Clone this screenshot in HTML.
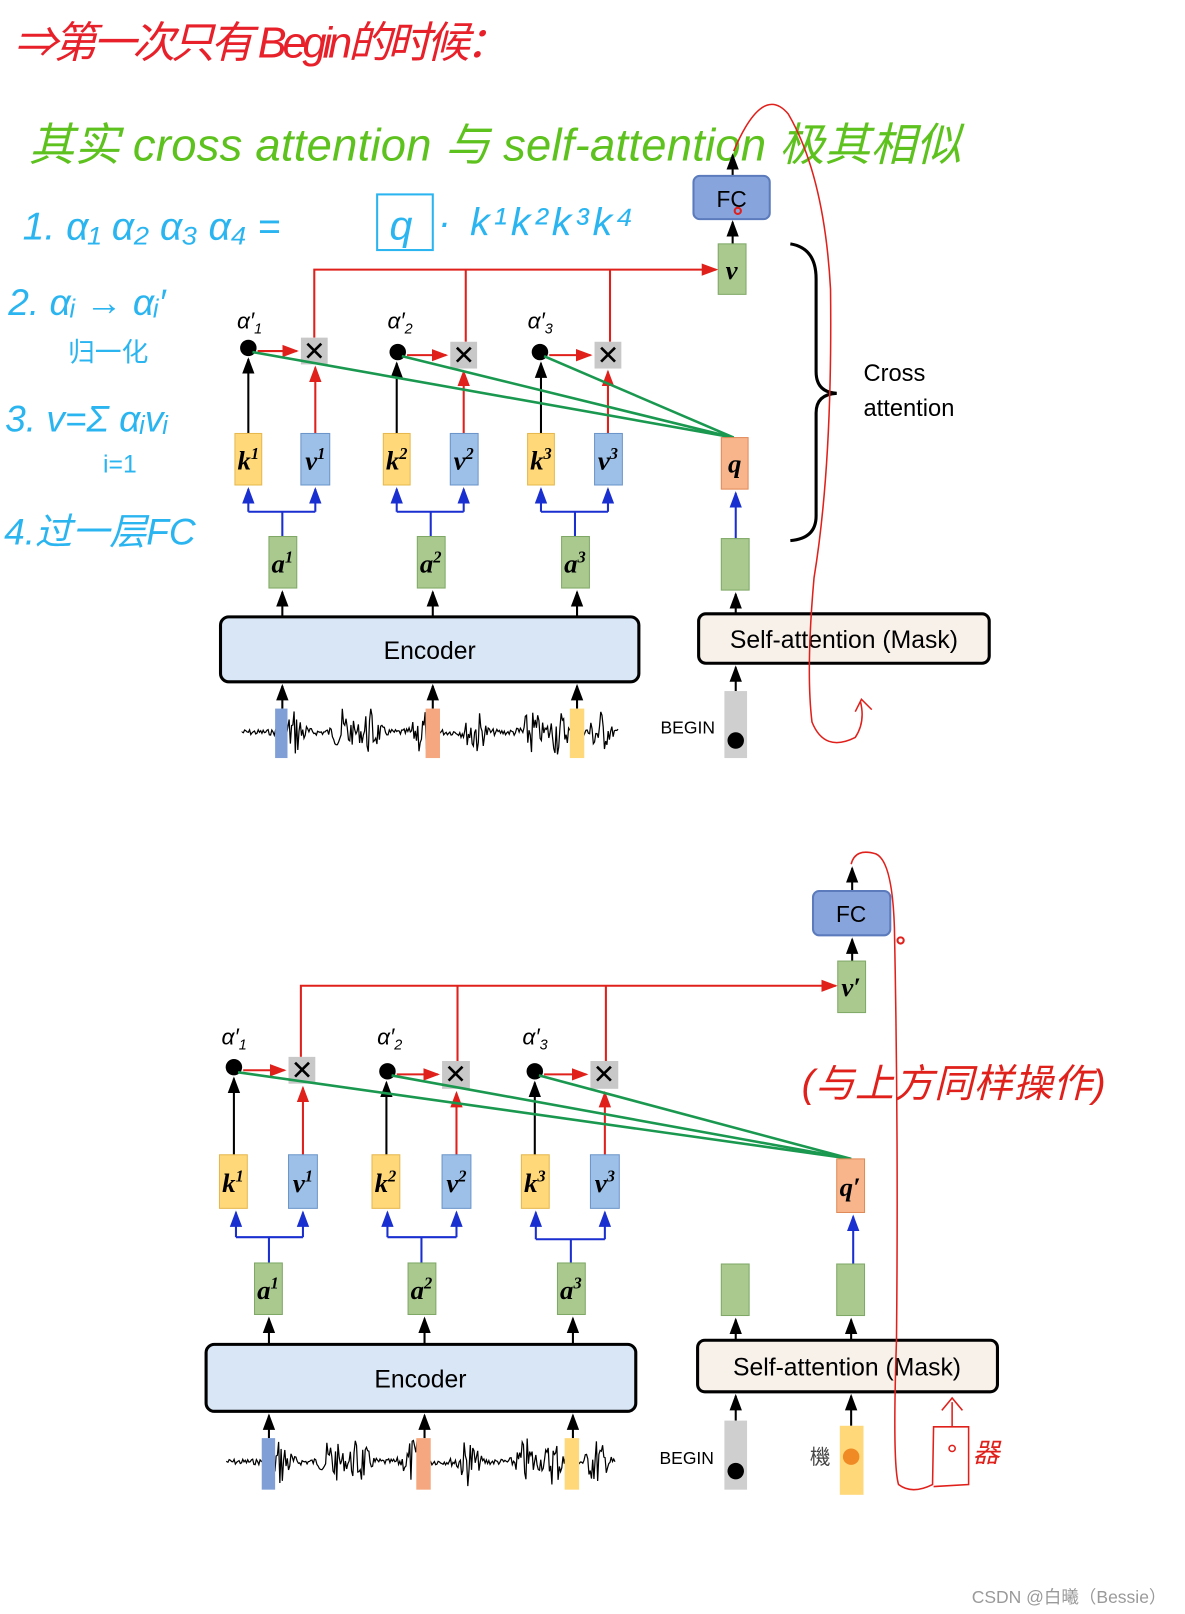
<!DOCTYPE html>
<html><head><meta charset="utf-8"><style>
html,body{margin:0;padding:0;background:#fff}
svg{display:block}
text{font-family:"Liberation Sans","Noto Sans CJK SC",sans-serif}
.m{font-family:"Liberation Serif",serif;font-style:italic;font-weight:bold;font-size:26px}
</style></head><body>
<svg id="s" width="1185" height="1614" viewBox="0 0 1150 1565" xmlns="http://www.w3.org/2000/svg">
<defs>
<marker id="ak" markerWidth="8" markerHeight="8" refX="7" refY="4" orient="auto"><path d="M0,1 L8,4 L0,7z" fill="#000"/></marker>
<marker id="ar" markerWidth="8" markerHeight="8" refX="7" refY="4" orient="auto"><path d="M0,1 L8,4 L0,7z" fill="#e0201b"/></marker>
<marker id="ab" markerWidth="8" markerHeight="8" refX="7" refY="4" orient="auto"><path d="M0,1 L8,4 L0,7z" fill="#1a2fd0"/></marker>
</defs>
<!-- handwriting -->
<text x="14" y="55" font-size="42" fill="#e8202a" font-style="italic" textLength="480">⇒第一次只有 Begin的时候：</text>
<text x="28" y="155" font-size="44" fill="#5dc21e" font-style="italic" textLength="905">其实 cross attention 与 self-attention 极其相似</text>
<text x="22" y="232" font-size="38" fill="#2bb5f0" font-style="italic">1.   α₁ α₂ α₃ α₄ =</text>
<text x="378" y="232" font-size="40" fill="#2bb5f0" font-style="italic">q</text>
<text x="425" y="228" font-size="38" fill="#2bb5f0" font-style="italic" letter-spacing="4">· k¹k²k³k⁴</text>
<rect x="366" y="188" width="54" height="54" fill="none" stroke="#2bb5f0" stroke-width="2"/>
<text x="8" y="305" font-size="36" fill="#2bb5f0" font-style="italic">2. αᵢ → αᵢ′</text>
<text x="66" y="350" font-size="26" fill="#2bb5f0">归一化</text>
<text x="5" y="418" font-size="36" fill="#2bb5f0" font-style="italic">3. v=Σ αᵢvᵢ</text>
<text x="100" y="458" font-size="24" fill="#2bb5f0">i=1</text>
<text x="4" y="528" font-size="36" fill="#2bb5f0" font-style="italic">4.过一层FC</text>

<g id="top">
<line x1="711" y1="170" x2="711" y2="150" stroke="#000" stroke-width="2" marker-end="url(#ak)"/>
<rect x="673" y="170" width="74" height="42" rx="6" fill="#87a4dc" stroke="#5b7bbd" stroke-width="2"/>
<text x="710" y="200" font-size="22" text-anchor="middle">FC</text>
<line x1="711" y1="236" x2="711" y2="215" stroke="#000" stroke-width="2" marker-end="url(#ak)"/>
<rect x="697" y="236" width="27" height="49" fill="#a9c98f" stroke="#7fa866"/>
<text x="710" y="270" class="m" text-anchor="middle">v</text>
<polyline points="305,327 305,261 695,261" fill="none" stroke="#e0201b" stroke-width="2" marker-end="url(#ar)"/>
<line x1="452" y1="261" x2="452" y2="331" stroke="#e0201b" stroke-width="2"/>
<line x1="592" y1="261" x2="592" y2="331" stroke="#e0201b" stroke-width="2"/>
<rect x="292" y="327" width="26" height="26" fill="#c8c8c8"/><text x="305" y="349" font-size="26" text-anchor="middle">✕</text>
<rect x="437" y="331" width="26" height="26" fill="#c8c8c8"/><text x="450" y="353" font-size="26" text-anchor="middle">✕</text>
<rect x="577" y="331" width="26" height="26" fill="#c8c8c8"/><text x="590" y="353" font-size="26" text-anchor="middle">✕</text>
<circle cx="241" cy="337" r="8"/><circle cx="386" cy="341" r="8"/><circle cx="524" cy="341" r="8"/>
<line x1="250" y1="340" x2="288" y2="340" stroke="#e0201b" stroke-width="2" marker-end="url(#ar)"/>
<line x1="395" y1="344" x2="433" y2="344" stroke="#e0201b" stroke-width="2" marker-end="url(#ar)"/>
<line x1="533" y1="344" x2="573" y2="344" stroke="#e0201b" stroke-width="2" marker-end="url(#ar)"/>
<text x="230" y="318" font-size="22" font-family="Liberation Serif" font-style="italic">α′<tspan font-size="14" dy="5">1</tspan></text>
<text x="376" y="318" font-size="22" font-family="Liberation Serif" font-style="italic">α′<tspan font-size="14" dy="5">2</tspan></text>
<text x="512" y="318" font-size="22" font-family="Liberation Serif" font-style="italic">α′<tspan font-size="14" dy="5">3</tspan></text>
<g stroke="#000" stroke-width="2">
<line x1="241" y1="420" x2="241" y2="348" marker-end="url(#ak)"/>
<line x1="385" y1="420" x2="385" y2="352" marker-end="url(#ak)"/>
<line x1="525" y1="420" x2="525" y2="352" marker-end="url(#ak)"/></g>
<g stroke="#e0201b" stroke-width="2">
<line x1="306" y1="420" x2="306" y2="356" marker-end="url(#ar)"/>
<line x1="450" y1="420" x2="450" y2="360" marker-end="url(#ar)"/>
<line x1="590" y1="420" x2="590" y2="360" marker-end="url(#ar)"/></g>
<g stroke="#1a9850" stroke-width="2.5">
<line x1="712" y1="424" x2="245" y2="341"/><line x1="712" y1="424" x2="390" y2="345"/><line x1="712" y1="424" x2="528" y2="345"/></g>
<rect x="228" y="420" width="26" height="50" fill="#ffd87a" stroke="#e6b84e"/><text x="241" y="455" class="m" text-anchor="middle">k<tspan font-size="16" dy="-10">1</tspan></text>
<rect x="292" y="420" width="28" height="50" fill="#9dc0e8" stroke="#6b95c9"/><text x="306" y="455" class="m" text-anchor="middle">v<tspan font-size="16" dy="-10">1</tspan></text>
<rect x="372" y="420" width="26" height="50" fill="#ffd87a" stroke="#e6b84e"/><text x="385" y="455" class="m" text-anchor="middle">k<tspan font-size="16" dy="-10">2</tspan></text>
<rect x="437" y="420" width="27" height="50" fill="#9dc0e8" stroke="#6b95c9"/><text x="450" y="455" class="m" text-anchor="middle">v<tspan font-size="16" dy="-10">2</tspan></text>
<rect x="512" y="420" width="26" height="50" fill="#ffd87a" stroke="#e6b84e"/><text x="525" y="455" class="m" text-anchor="middle">k<tspan font-size="16" dy="-10">3</tspan></text>
<rect x="577" y="420" width="27" height="50" fill="#9dc0e8" stroke="#6b95c9"/><text x="590" y="455" class="m" text-anchor="middle">v<tspan font-size="16" dy="-10">3</tspan></text>
<rect x="700" y="424" width="26" height="50" fill="#f8b58c" stroke="#e08a58"/><text x="713" y="458" class="m" text-anchor="middle">q</text>
<g fill="none" stroke="#1a2fd0" stroke-width="2">
<polyline points="241,496 241,474" marker-end="url(#ab)"/><polyline points="306,496 306,474" marker-end="url(#ab)"/><polyline points="241,496 306,496"/><line x1="274" y1="496" x2="274" y2="520"/>
<polyline points="385,496 385,474" marker-end="url(#ab)"/><polyline points="450,496 450,474" marker-end="url(#ab)"/><polyline points="385,496 450,496"/><line x1="418" y1="496" x2="418" y2="520"/>
<polyline points="525,496 525,474" marker-end="url(#ab)"/><polyline points="590,496 590,474" marker-end="url(#ab)"/><polyline points="525,496 590,496"/><line x1="558" y1="496" x2="558" y2="520"/>
<line x1="714" y1="522" x2="714" y2="478" marker-end="url(#ab)"/></g>
<rect x="261" y="520" width="27" height="50" fill="#a9c98f" stroke="#7fa866"/><text x="274" y="555" class="m" text-anchor="middle">a<tspan font-size="16" dy="-10">1</tspan></text>
<rect x="405" y="520" width="27" height="50" fill="#a9c98f" stroke="#7fa866"/><text x="418" y="555" class="m" text-anchor="middle">a<tspan font-size="16" dy="-10">2</tspan></text>
<rect x="545" y="520" width="27" height="50" fill="#a9c98f" stroke="#7fa866"/><text x="558" y="555" class="m" text-anchor="middle">a<tspan font-size="16" dy="-10">3</tspan></text>
<rect x="700" y="522" width="27" height="50" fill="#a9c98f" stroke="#7fa866"/>
<g stroke="#000" stroke-width="2">
<line x1="274" y1="598" x2="274" y2="574" marker-end="url(#ak)"/><line x1="420" y1="598" x2="420" y2="574" marker-end="url(#ak)"/><line x1="560" y1="598" x2="560" y2="574" marker-end="url(#ak)"/>
<line x1="714" y1="595" x2="714" y2="576" marker-end="url(#ak)"/>
<line x1="274" y1="687" x2="274" y2="665" marker-end="url(#ak)"/><line x1="420" y1="687" x2="420" y2="665" marker-end="url(#ak)"/><line x1="560" y1="687" x2="560" y2="665" marker-end="url(#ak)"/>
<line x1="714" y1="670" x2="714" y2="647" marker-end="url(#ak)"/></g>
<rect x="214" y="598" width="406" height="63" rx="8" fill="#d8e6f5" stroke="#000" stroke-width="3"/>
<text x="417" y="639" font-size="24" text-anchor="middle">Encoder</text>
<rect x="678" y="595" width="282" height="48" rx="7" fill="#f8f1ea" stroke="#000" stroke-width="3"/>
<text x="819" y="628" font-size="24" text-anchor="middle">Self-attention (Mask)</text>
<rect x="703" y="670" width="22" height="65" fill="#cfcfcf"/><circle cx="714" cy="718" r="8"/>
<text x="641" y="711" font-size="17">BEGIN</text>
<path class="wave" data-x0="235" data-x1="600" data-y="710" fill="none" stroke="#000" stroke-width="1.2"/>
<rect x="267" y="687" width="12" height="48" fill="#7f9fd6"/><rect x="413" y="687" width="14" height="48" fill="#f5a77f"/><rect x="553" y="687" width="14" height="48" fill="#ffd87a"/>
<path d="M767,236 Q792,240 792,270 L792,360 Q792,380 812,381 Q792,382 792,400 L792,500 Q792,522 767,524" fill="none" stroke="#000" stroke-width="3"/>
<text x="838" y="369" font-size="23">Cross</text><text x="838" y="403" font-size="23">attention</text>
</g>
<path d="M712,146 Q740,80 765,110 Q800,170 806,280 Q808,450 790,560 Q782,650 788,700 Q800,730 830,715 Q840,700 835,680 M830,690 L836,678 L846,688" fill="none" stroke="#e0201b" stroke-width="1.5"/>
<circle cx="716" cy="204" r="3" fill="none" stroke="#e0201b" stroke-width="2"/>

<g>
<line x1="827" y1="864" x2="827" y2="842" stroke="#000" stroke-width="2" marker-end="url(#ak)"/>
<rect x="789" y="864" width="75" height="43" rx="6" fill="#87a4dc" stroke="#5b7bbd" stroke-width="2"/>
<text x="826" y="894" font-size="22" text-anchor="middle">FC</text>
<line x1="827" y1="932" x2="827" y2="911" stroke="#000" stroke-width="2" marker-end="url(#ak)"/>
<rect x="813" y="932" width="27" height="50" fill="#a9c98f" stroke="#7fa866"/>
<text x="826" y="966" class="m" text-anchor="middle">v′</text>
<polyline points="292,1025 292,956 811,956" fill="none" stroke="#e0201b" stroke-width="2" marker-end="url(#ar)"/>
<line x1="444" y1="956" x2="444" y2="1029" stroke="#e0201b" stroke-width="2"/>
<line x1="588" y1="956" x2="588" y2="1029" stroke="#e0201b" stroke-width="2"/>
<rect x="280" y="1025" width="26" height="26" fill="#c8c8c8"/><text x="293" y="1047" font-size="26" text-anchor="middle">✕</text>
<rect x="429" y="1029" width="27" height="27" fill="#c8c8c8"/><text x="442" y="1051" font-size="26" text-anchor="middle">✕</text>
<rect x="573" y="1029" width="27" height="27" fill="#c8c8c8"/><text x="586" y="1051" font-size="26" text-anchor="middle">✕</text>
<circle cx="227" cy="1035" r="8"/><circle cx="376" cy="1039" r="8"/><circle cx="519" cy="1039" r="8"/>
<line x1="236" y1="1038" x2="276" y2="1038" stroke="#e0201b" stroke-width="2" marker-end="url(#ar)"/>
<line x1="385" y1="1042" x2="425" y2="1042" stroke="#e0201b" stroke-width="2" marker-end="url(#ar)"/>
<line x1="528" y1="1042" x2="569" y2="1042" stroke="#e0201b" stroke-width="2" marker-end="url(#ar)"/>
<text x="215" y="1013" font-size="22" font-family="Liberation Serif" font-style="italic">α′<tspan font-size="14" dy="5">1</tspan></text>
<text x="366" y="1013" font-size="22" font-family="Liberation Serif" font-style="italic">α′<tspan font-size="14" dy="5">2</tspan></text>
<text x="507" y="1013" font-size="22" font-family="Liberation Serif" font-style="italic">α′<tspan font-size="14" dy="5">3</tspan></text>
<g stroke="#000" stroke-width="2">
<line x1="227" y1="1120" x2="227" y2="1046" marker-end="url(#ak)"/>
<line x1="375" y1="1120" x2="375" y2="1050" marker-end="url(#ak)"/>
<line x1="519" y1="1120" x2="519" y2="1050" marker-end="url(#ak)"/></g>
<g stroke="#e0201b" stroke-width="2">
<line x1="294" y1="1120" x2="294" y2="1055" marker-end="url(#ar)"/>
<line x1="443" y1="1120" x2="443" y2="1060" marker-end="url(#ar)"/>
<line x1="587" y1="1120" x2="587" y2="1060" marker-end="url(#ar)"/></g>
<g stroke="#1a9850" stroke-width="2.5">
<line x1="826" y1="1124" x2="231" y2="1040"/><line x1="826" y1="1124" x2="380" y2="1043"/><line x1="826" y1="1124" x2="523" y2="1043"/></g>
<rect x="213" y="1120" width="27" height="52" fill="#ffd87a" stroke="#e6b84e"/><text x="226" y="1156" class="m" text-anchor="middle">k<tspan font-size="16" dy="-10">1</tspan></text>
<rect x="280" y="1120" width="28" height="52" fill="#9dc0e8" stroke="#6b95c9"/><text x="294" y="1156" class="m" text-anchor="middle">v<tspan font-size="16" dy="-10">1</tspan></text>
<rect x="361" y="1120" width="27" height="52" fill="#ffd87a" stroke="#e6b84e"/><text x="374" y="1156" class="m" text-anchor="middle">k<tspan font-size="16" dy="-10">2</tspan></text>
<rect x="429" y="1120" width="28" height="52" fill="#9dc0e8" stroke="#6b95c9"/><text x="443" y="1156" class="m" text-anchor="middle">v<tspan font-size="16" dy="-10">2</tspan></text>
<rect x="506" y="1120" width="27" height="52" fill="#ffd87a" stroke="#e6b84e"/><text x="519" y="1156" class="m" text-anchor="middle">k<tspan font-size="16" dy="-10">3</tspan></text>
<rect x="573" y="1120" width="28" height="52" fill="#9dc0e8" stroke="#6b95c9"/><text x="587" y="1156" class="m" text-anchor="middle">v<tspan font-size="16" dy="-10">3</tspan></text>
<rect x="812" y="1124" width="27" height="52" fill="#f8b58c" stroke="#e08a58"/><text x="825" y="1160" class="m" text-anchor="middle">q′</text>
<g fill="none" stroke="#1a2fd0" stroke-width="2">
<polyline points="229,1200 229,1176" marker-end="url(#ab)"/><polyline points="294,1200 294,1176" marker-end="url(#ab)"/><polyline points="229,1200 294,1200"/><line x1="261" y1="1200" x2="261" y2="1225"/>
<polyline points="376,1200 376,1176" marker-end="url(#ab)"/><polyline points="443,1200 443,1176" marker-end="url(#ab)"/><polyline points="376,1200 443,1200"/><line x1="409" y1="1200" x2="409" y2="1225"/>
<polyline points="520,1202 520,1176" marker-end="url(#ab)"/><polyline points="587,1202 587,1176" marker-end="url(#ab)"/><polyline points="520,1202 587,1202"/><line x1="554" y1="1202" x2="554" y2="1225"/>
<line x1="828" y1="1226" x2="828" y2="1180" marker-end="url(#ab)"/></g>
<rect x="247" y="1225" width="27" height="50" fill="#a9c98f" stroke="#7fa866"/><text x="260" y="1260" class="m" text-anchor="middle">a<tspan font-size="16" dy="-10">1</tspan></text>
<rect x="396" y="1225" width="27" height="50" fill="#a9c98f" stroke="#7fa866"/><text x="409" y="1260" class="m" text-anchor="middle">a<tspan font-size="16" dy="-10">2</tspan></text>
<rect x="541" y="1225" width="27" height="50" fill="#a9c98f" stroke="#7fa866"/><text x="554" y="1260" class="m" text-anchor="middle">a<tspan font-size="16" dy="-10">3</tspan></text>
<rect x="700" y="1226" width="27" height="50" fill="#a9c98f" stroke="#7fa866"/>
<rect x="812" y="1226" width="27" height="50" fill="#a9c98f" stroke="#7fa866"/>
<g stroke="#000" stroke-width="2">
<line x1="261" y1="1304" x2="261" y2="1279" marker-end="url(#ak)"/><line x1="412" y1="1304" x2="412" y2="1279" marker-end="url(#ak)"/><line x1="556" y1="1304" x2="556" y2="1279" marker-end="url(#ak)"/>
<line x1="714" y1="1300" x2="714" y2="1280" marker-end="url(#ak)"/><line x1="826" y1="1300" x2="826" y2="1280" marker-end="url(#ak)"/>
<line x1="261" y1="1395" x2="261" y2="1373" marker-end="url(#ak)"/><line x1="412" y1="1395" x2="412" y2="1373" marker-end="url(#ak)"/><line x1="556" y1="1395" x2="556" y2="1373" marker-end="url(#ak)"/>
<line x1="714" y1="1378" x2="714" y2="1354" marker-end="url(#ak)"/><line x1="826" y1="1383" x2="826" y2="1354" marker-end="url(#ak)"/></g>
<rect x="200" y="1304" width="417" height="65" rx="8" fill="#d8e6f5" stroke="#000" stroke-width="3"/>
<text x="408" y="1346" font-size="24" text-anchor="middle">Encoder</text>
<rect x="677" y="1300" width="291" height="50" rx="7" fill="#f8f1ea" stroke="#000" stroke-width="3"/>
<text x="822" y="1334" font-size="24" text-anchor="middle">Self-attention (Mask)</text>
<rect x="703" y="1378" width="22" height="67" fill="#cfcfcf"/><circle cx="714" cy="1427" r="8"/>
<text x="640" y="1420" font-size="17">BEGIN</text>
<text x="786" y="1420" font-size="20" fill="#444">機</text>
<rect x="815" y="1383" width="23" height="67" fill="#ffd87a"/><circle cx="826" cy="1413" r="8" fill="#f08a24"/>
<path class="wave" data-x0="220" data-x1="598" data-y="1418" fill="none" stroke="#000" stroke-width="1.2"/>
<rect x="254" y="1395" width="13" height="50" fill="#7f9fd6"/><rect x="404" y="1395" width="14" height="50" fill="#f5a77f"/><rect x="548" y="1395" width="14" height="50" fill="#ffd87a"/>
</g>
<path d="M826,838 Q830,822 850,828 Q866,835 868,900 Q872,1100 870,1300 Q866,1420 872,1440 Q885,1450 905,1440 L906,1384 L940,1384 L940,1440 L906,1442" fill="none" stroke="#e0201b" stroke-width="1.5"/>
<path d="M924,1384 L924,1360 M914,1368 L924,1356 L934,1368" fill="none" stroke="#e0201b" stroke-width="1.5"/>
<circle cx="924" cy="1405" r="3" fill="none" stroke="#e0201b" stroke-width="1.5"/>
<text x="944" y="1418" font-size="26" fill="#e0201b" font-style="italic">器</text>
<circle cx="874" cy="912" r="3" fill="none" stroke="#e0201b" stroke-width="2"/>
<text x="778" y="1064" font-size="38" fill="#e0201b" font-style="italic" textLength="295">(与上方同样操作)</text>
<text x="943" y="1555" font-size="17" fill="#9a9a9a">CSDN @白曦（Bessie）</text>
</svg>
<script>
document.querySelectorAll('.wave').forEach(function(p){
 var x0=+p.dataset.x0,x1=+p.dataset.x1,y=+p.dataset.y,d='M'+x0+','+y,s=7,w=x1-x0;
 var bursts=[0.14,0.27,0.34,0.48,0.62,0.77,0.84,0.95];
 for(var x=x0;x<=x1;x+=1.2){s=(s*9301+49297)%233280;var r=s/233280;
  var t=(x-x0)/w,env=0.12;
  bursts.forEach(function(b){var dd=(t-b)/0.025;env+=Math.exp(-dd*dd)*0.9;});
  var a=(r-0.5)*2*24*Math.min(env,1);
  d+=' L'+x.toFixed(1)+','+(y+a).toFixed(1);}
 p.setAttribute('d',d);});
</script>
</body></html>
